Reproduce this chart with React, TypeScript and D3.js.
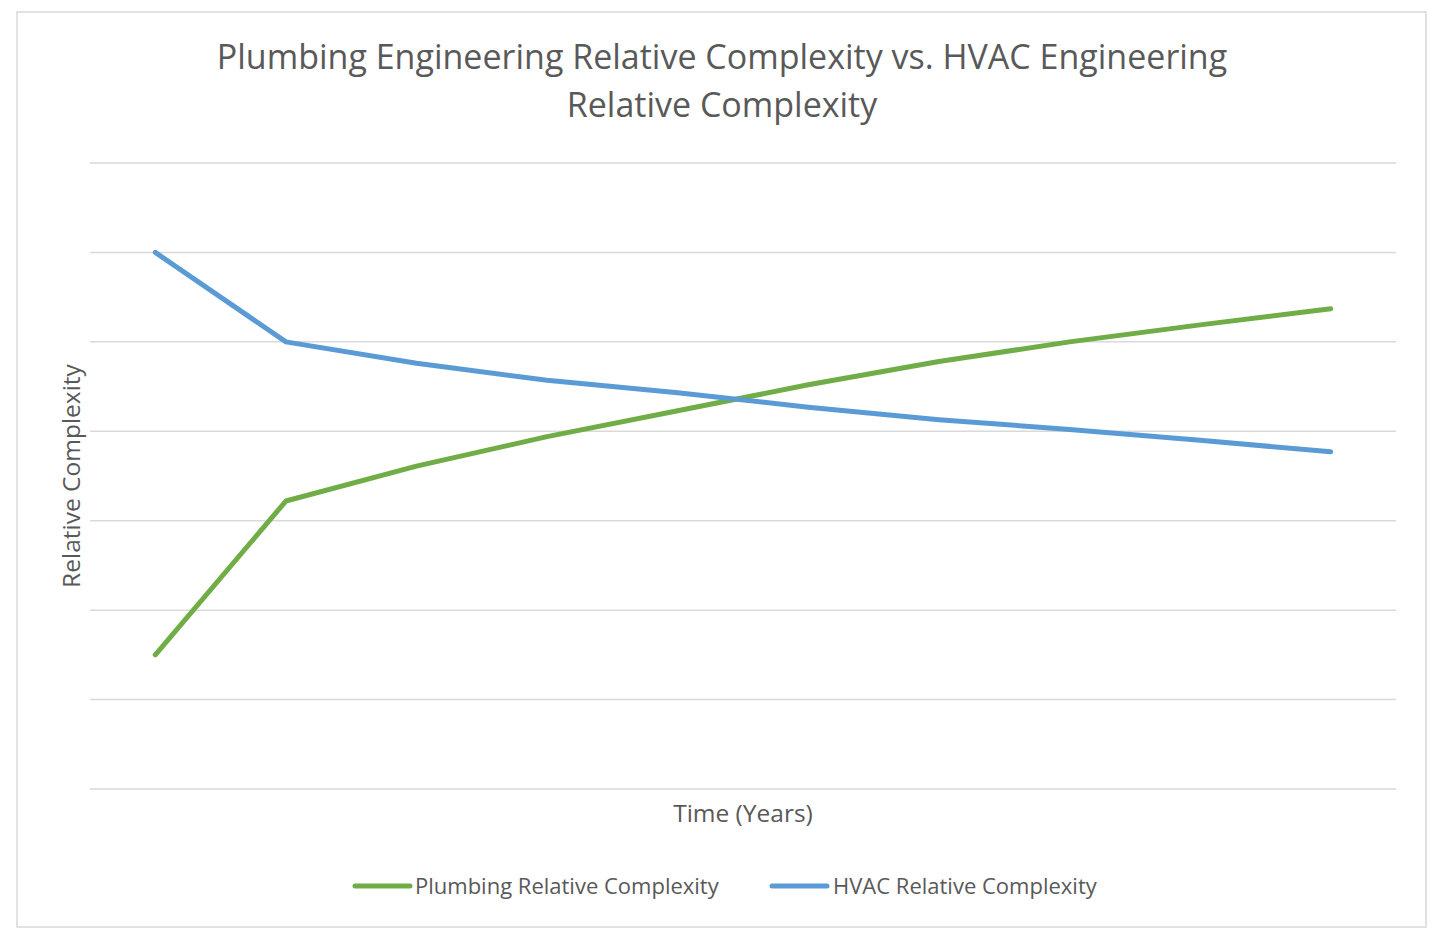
import React from "react";
import * as d3 from "d3";

const years = ["1", "2", "3", "4", "5", "6", "7", "8", "9", "10"];
const plumbing = [1.5, 3.22, 3.61, 3.94, 4.23, 4.52, 4.78, 5.0, 5.19, 5.37];
const hvac = [6.0, 5.0, 4.76, 4.57, 4.43, 4.27, 4.13, 4.02, 3.9, 3.77];
const yTicks = [0, 1, 2, 3, 4, 5, 6, 7];
const titleLines = [
  "Plumbing Engineering Relative Complexity vs. HVAC Engineering",
  "Relative Complexity",
];
const seriesNames = ["Plumbing Relative Complexity", "HVAC Relative Complexity"];

const W = 1442;
const H = 940;
const plot = { left: 90, right: 1396, top: 163, bottom: 789 };
const GREEN = "#70AD47";
const BLUE = "#5B9BD5";
const TEXT = "#595959";
const FONT = "'Open Sans', 'Noto Sans', sans-serif";

export default function App() {
  const x = d3
    .scaleBand<string>()
    .domain(years)
    .range([plot.left, plot.right]);
  const y = d3.scaleLinear().domain([0, 7]).range([plot.bottom, plot.top]);
  const line = d3
    .line<number>()
    .x((_, i) => (x(years[i]) as number) + x.bandwidth() / 2)
    .y((d) => y(d));

  const legend = [
    { name: seriesNames[0], color: GREEN, lx: 355, tx: 415 },
    { name: seriesNames[1], color: BLUE, lx: 772, tx: 833 },
  ];

  return (
    <svg
      width={W}
      height={H}
      style={{ position: "absolute", left: 0, top: 0, background: "#fff" }}
      fontFamily={FONT}
    >
      <rect x={17} y={12} width={1409} height={915} fill="#fff" stroke="#d9d9d9" strokeWidth={1.5} />
      {titleLines.map((t, i) => (
        <text
          key={i}
          x={722}
          y={69 + i * 48}
          textAnchor="middle"
          fontSize={34}
          fill={TEXT}
        >
          {t}
        </text>
      ))}
      {yTicks.map((t) => (
        <line
          key={t}
          x1={plot.left}
          x2={plot.right}
          y1={y(t)}
          y2={y(t)}
          stroke="#d9d9d9"
          strokeWidth={1.5}
        />
      ))}
      <path d={line(plumbing) || ""} fill="none" stroke={GREEN} strokeWidth={5} strokeLinecap="round" strokeLinejoin="round" />
      <path d={line(hvac) || ""} fill="none" stroke={BLUE} strokeWidth={5} strokeLinecap="round" strokeLinejoin="round" />
      <text
        transform={`translate(80, ${(plot.top + plot.bottom) / 2}) rotate(-90)`}
        textAnchor="middle"
        fontSize={24.5}
        fill={TEXT}
      >
        Relative Complexity
      </text>
      <text x={743} y={822} textAnchor="middle" fontSize={24.5} fill={TEXT}>
        Time (Years)
      </text>
      {legend.map((l) => (
        <g key={l.name}>
          <line x1={l.lx} x2={l.lx + 55} y1={886} y2={886} stroke={l.color} strokeWidth={5} strokeLinecap="round" />
          <text x={l.tx} y={894} fontSize={22} fill={TEXT}>
            {l.name}
          </text>
        </g>
      ))}
    </svg>
  );
}
